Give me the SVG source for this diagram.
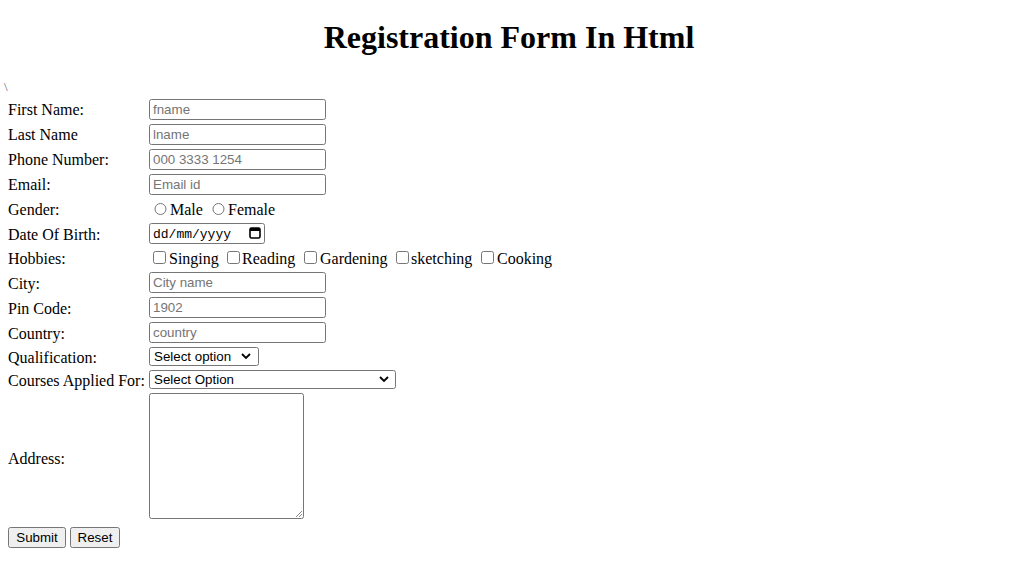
<svg xmlns="http://www.w3.org/2000/svg" width="1012" height="563" viewBox="0 0 1012 563">
<style>
.lbl{font-family:"Liberation Serif","Times New Roman",serif;font-size:16px;fill:#000}
.ph{font-family:"Liberation Sans",Arial,sans-serif;font-size:13.33px;fill:#757575}
.ctl{font-family:"Liberation Sans",Arial,sans-serif;font-size:13.33px;fill:#000}
.inp{fill:#fff;stroke:#767676;stroke-width:1}
.btn{fill:#efefef;stroke:#767676;stroke-width:1}
.rad{fill:#fff;stroke:#767676;stroke-width:1}
.chev{fill:none;stroke:#000;stroke-width:1.8}
</style>
<rect width="1012" height="563" fill="#fff"/>
<text x="509" y="48" text-anchor="middle" style="font-family:'Liberation Serif','Times New Roman',serif;font-size:32px;font-weight:bold">Registration Form In Html</text>
<text x="4" y="91" style="font-family:'Liberation Serif',serif;font-size:13px;fill:#666">\</text>
<g id="labels">
<text class="lbl" x="8" y="115">First Name:</text>
<text class="lbl" x="8" y="140">Last Name</text>
<text class="lbl" x="8" y="165">Phone Number:</text>
<text class="lbl" x="8" y="190">Email:</text>
<text class="lbl" x="8" y="215">Gender:</text>
<text class="lbl" x="8" y="240">Date Of Birth:</text>
<text class="lbl" x="8" y="264">Hobbies:</text>
<text class="lbl" x="8" y="289">City:</text>
<text class="lbl" x="8" y="314">Pin Code:</text>
<text class="lbl" x="8" y="339">Country:</text>
<text class="lbl" x="8" y="363">Qualification:</text>
<text class="lbl" x="8" y="386">Courses Applied For:</text>
<text class="lbl" x="8" y="464">Address:</text>
</g>
<g id="fname"><rect class="inp" x="149.5" y="99.5" width="176" height="20" rx="2"/><text class="ph" x="153" y="114">fname</text></g>
<g id="lname"><rect class="inp" x="149.5" y="124.5" width="176" height="20" rx="2"/><text class="ph" x="153" y="139">lname</text></g>
<g id="phone"><rect class="inp" x="149.5" y="149.5" width="176" height="20" rx="2"/><text class="ph" x="153" y="164">000 3333 1254</text></g>
<g id="email"><rect class="inp" x="149.5" y="174.5" width="176" height="20" rx="2"/><text class="ph" x="153" y="189">Email id</text></g>
<g id="gender">
<circle class="rad" cx="160.5" cy="209" r="5.5"/><text class="lbl" x="170" y="215">Male</text>
<circle class="rad" cx="218.5" cy="209" r="5.5"/><text class="lbl" x="228" y="215">Female</text>
</g>
<g id="dob"><rect class="inp" x="149.5" y="223.5" width="115" height="20" rx="2"/>
<text x="153" y="238" style="font-family:'Liberation Mono','Courier New',monospace;font-size:13px;fill:#000">dd/mm/yyyy</text>
<rect x="250" y="228" width="10" height="10" rx="1.5" fill="none" stroke="#000" stroke-width="1.6"/><rect x="250" y="228" width="10" height="3" fill="#000"/>
</g>
<g id="hobbies">
<rect class="rad" x="153.5" y="251.5" width="12" height="12" rx="2"/><text class="lbl" x="169" y="264">Singing</text>
<rect class="rad" x="227.5" y="251.5" width="12" height="12" rx="2"/><text class="lbl" x="242" y="264">Reading</text>
<rect class="rad" x="304.5" y="251.5" width="12" height="12" rx="2"/><text class="lbl" x="320" y="264">Gardening</text>
<rect class="rad" x="396.5" y="251.5" width="12" height="12" rx="2"/><text class="lbl" x="411" y="264">sketching</text>
<rect class="rad" x="481.5" y="251.5" width="12" height="12" rx="2"/><text class="lbl" x="497" y="264">Cooking</text>
</g>
<g id="city"><rect class="inp" x="149.5" y="272.5" width="176" height="20" rx="2"/><text class="ph" x="153" y="287">City name</text></g>
<g id="pin"><rect class="inp" x="149.5" y="297.5" width="176" height="20" rx="2"/><text class="ph" x="153" y="312">1902</text></g>
<g id="country"><rect class="inp" x="149.5" y="322.5" width="176" height="20" rx="2"/><text class="ph" x="153" y="337">country</text></g>
<g id="qualification"><rect class="inp" x="149.5" y="347.5" width="109" height="18" rx="2"/><text class="ctl" x="154" y="361">Select option</text><path class="chev" d="M242 354 L246 358 L250 354"/></g>
<g id="courses"><rect class="inp" x="149.5" y="370.5" width="246" height="18" rx="2"/><text class="ctl" x="154" y="384">Select Option</text><path class="chev" d="M380 377 L384 381 L388 377"/></g>
<g id="address"><rect class="inp" x="149.5" y="393.5" width="154" height="125" rx="2"/><path d="M302 511 L296 517 M302 514 L299 517" stroke="#888" stroke-width="1"/></g>
<g id="submit"><rect class="btn" x="8.5" y="527.5" width="57" height="20" rx="2"/><text class="ctl" x="37" y="542" text-anchor="middle">Submit</text></g>
<g id="reset"><rect class="btn" x="70.5" y="527.5" width="49" height="20" rx="2"/><text class="ctl" x="95" y="542" text-anchor="middle">Reset</text></g>
</svg>
